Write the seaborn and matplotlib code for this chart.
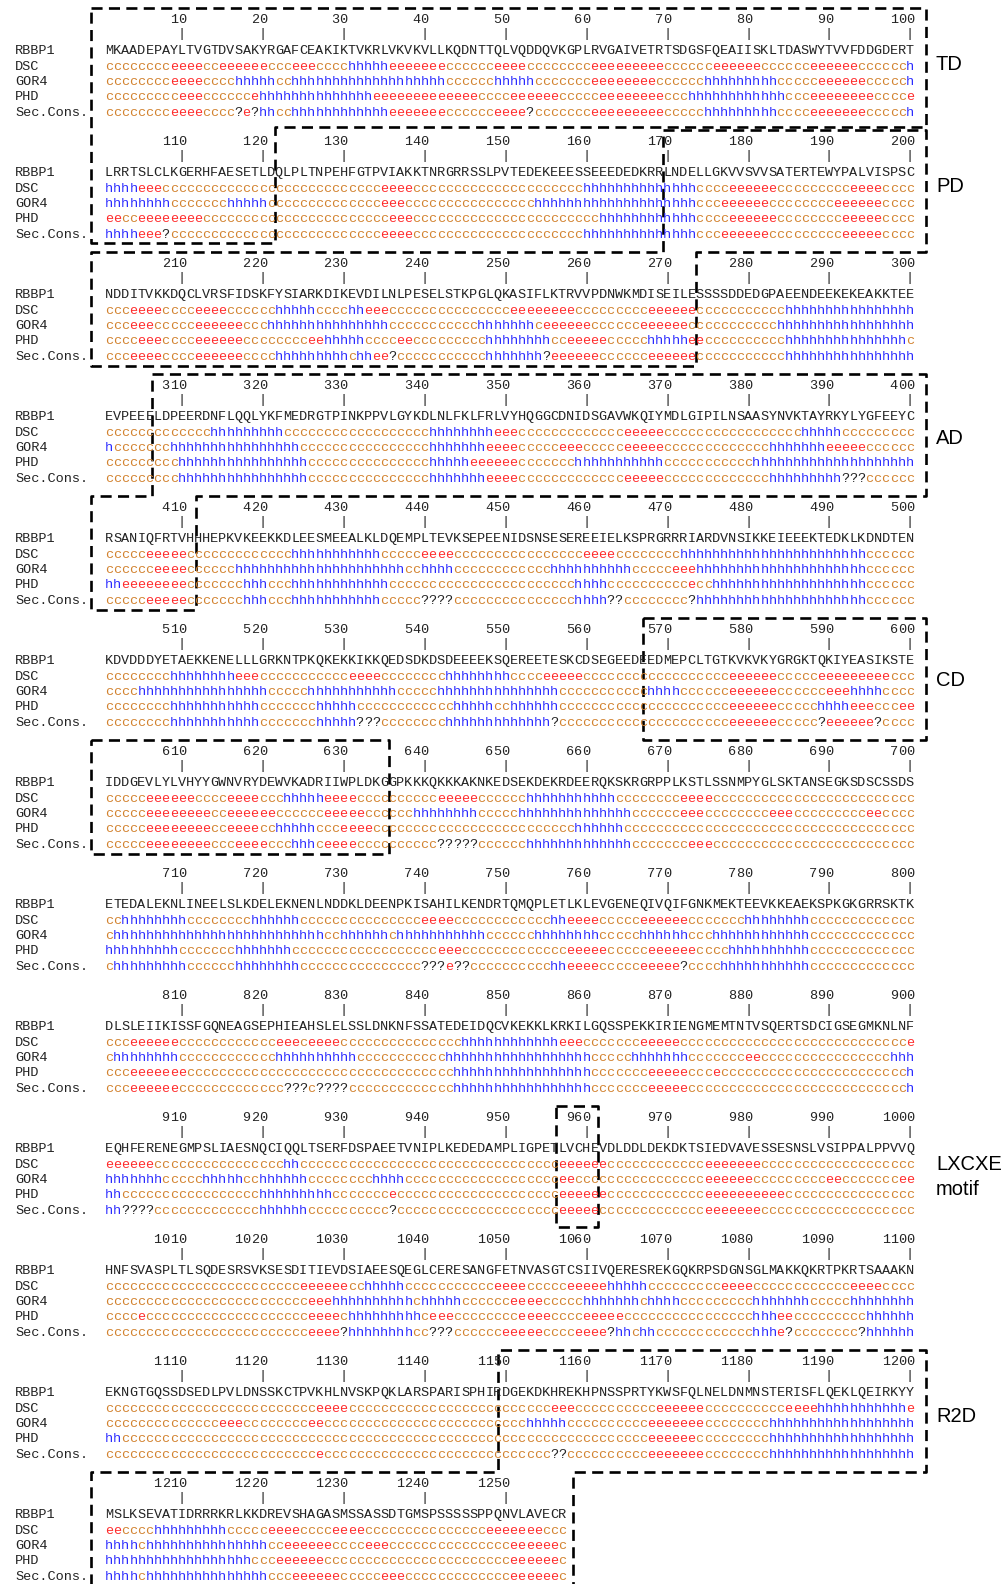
import re
import numpy as np
import pandas as pd
import matplotlib
matplotlib.use("Agg")
import matplotlib.pyplot as plt
import seaborn as sns

# ---------------- data ----------------
ROW_LABELS = ["RBBP1", "DSC", "GOR4", "PHD", "Sec.Cons."]

RBBP1 = [
    "MKAADEPAYLTVGTDVSAKYRGAFCEAKIKTVKRLVKVKVLLKQDNTTQLVQDDQVKGPLRVGAIVETRTSDGSFQEAIISKLTDASWYTVVFDDGDERT",
    "LRRTSLCLKGERHFAESETLDQLPLTNPEHFGTPVIAKKTNRGRRSSLPVTEDEKEEESSEEEDEDKRRLNDELLGKVVSVVSATERTEWYPALVISPSC",
    "NDDITVKKDQCLVRSFIDSKFYSIARKDIKEVDILNLPESELSTKPGLQKASIFLKTRVVPDNWKMDISEILESSSSDDEDGPAEENDEEKEKEAKKTEE",
    "EVPEEELDPEERDNFLQQLYKFMEDRGTPINKPPVLGYKDLNLFKLFRLVYHQGGCDNIDSGAVWKQIYMDLGIPILNSAASYNVKTAYRKYLYGFEEYC",
    "RSANIQFRTVHHHEPKVKEEKKDLEESMEEALKLDQEMPLTEVKSEPEENIDSNSESEREEIELKSPRGRRRIARDVNSIKKEIEEEKTEDKLKDNDTEN",
    "KDVDDDYETAEKKENELLLGRKNTPKQKEKKIKKQEDSDKDSDEEEEKSQEREETESKCDSEGEEDEEDMEPCLTGTKVKVKYGRGKTQKIYEASIKSTE",
    "IDDGEVLYLVHYYGWNVRYDEWVKADRIIWPLDKGGPKKKQKKKAKNKEDSEKDEKRDEERQKSKRGRPPLKSTLSSNMPYGLSKTANSEGKSDSCSSDS",
    "ETEDALEKNLINEELSLKDELEKNENLNDDKLDEENPKISAHILKENDRTQMQPLETLKLEVGENEQIVQIFGNKMEKTEEVKKEAEKSPKGKGRRSKTK",
    "DLSLEIIKISSFGQNEAGSEPHIEAHSLELSSLDNKNFSSATEDEIDQCVKEKKLKRKILGQSSPEKKIRIENGMEMTNTVSQERTSDCIGSEGMKNLNF",
    "EQHFERENEGMPSLIAESNQCIQQLTSERFDSPAEETVNIPLKEDEDAMPLIGPETLVCHEVDLDDLDEKDKTSIEDVAVESSESNSLVSIPPALPPVVQ",
    "HNFSVASPLTLSQDESRSVKSESDITIEVDSIAEESQEGLCERESANGFETNVASGTCSIIVQERESREKGQKRPSDGNSGLMAKKQKRTPKRTSAAAKN",
    "EKNGTGQSSDSEDLPVLDNSSKCTPVKHLNVSKPQKLARSPARISPHIRDGEKDKHREKHPNSSPRTYKWSFQLNELDNMNSTERISFLQEKLQEIRKYY",
    "MSLKSEVATIDRRRKRLKKDREVSHAGASMSSASSDTGMSPSSSSSPPQNVLAVECR",
]

# secondary-structure rows, written as runs: letter + run length
DSC = [
    "c8e4c2e6c3e3c4h5e7c6e4c8e9c6e6c6e6c6h1",
    "h4e3c27e4c21h14c4e6c9e4c4",
    "c3e4c4e4c6h5c4h2e3c15e8c9e6c11h16",
    "c13h9c18h8e3c13e5c17h5c9",
    "c5e5c1c12h11c5e4c16e4c8h23c6",
    "c8h8e3c11e4c8h8c4e5c8c10e6c5e9c3",
    "c5e6c4e4c3h5e4c4c6e5c6h11c8e4c25",
    "c2h8c8h6c15e4c12h2e4c5e6c7h8c13",
    "c3e6c12e3c1e4c15h12e3c7e5c28e1",
    "e6c16h2c32e6c12e7c19",
    "c24e6c2h5c11e4c5e5h5c9e4c12e4c4",
    "c26e4c19c6e3c10e6c10e4h11e1",
    "e2c4h9c5e4c4e4c15e7c3",
]
GOR4 = [
    "c8e4c4h5c2h19c6h5c7e8c6h9c5e6c5h1",
    "h8c7h5c14e3c16h20c3e6c8e6c4",
    "c3e3c5e6c3h15c11h7c1e6c6e6c1c10h17",
    "h1c7h16c16h7e4c5e3c5e5c13h7e5c6",
    "c6e4c1c5h21c2h4c12h10c5e3h21c6",
    "c4h16c5h11c5h15c11h4c6e6c6e3h4c4",
    "c5e8c2e6c6e5c3c3h8c5h14c6e3c8e3c9e2c4",
    "c1h26c2h6c1h11c6h8c5h6c3h12c13",
    "c1h8c12h10c11h18c5h7c7e2c16h3",
    "h7c5h5c2h6c8h4c19e2c3c13e6c9e2c7e2",
    "c25e3h10c1h5c6e4c5h7c1h4c9h7c5h8",
    "c14e3c8e2c22c3h5c10e7c8h18",
    "h4c1h15c2e6c4e3c15e6c1",
]
PHD = [
    "c9e3c6e1h14e13c4e6c5e8c3h12c3e8c4e1",
    "e2c2e8c23e3c23h12c4e6c8e5c4",
    "c4e3c4e6c8e2h5c4e2c9h8c2e5c5h5e2c10h15c1",
    "c9h16c15h5e6c7h11c11h20",
    "h2e8c1c6h3c3h12c23h4c10e1c2h19c6",
    "c8h11c7h5c12h5c2h6c11c10e6c5h4e3c3e2",
    "c5e8c2e4c2h5c3e4c2c23h6c36",
    "h9c7h7c18e3c13e5c5e6c4h10c13",
    "c3e7c33h17c7e5c3e1c23h1",
    "h2c17h9c7e1c20e6c12e10c16",
    "c4e1c20e4c1h9c1e3c8e4c4e5c16h3e2c9h6",
    "h2c47c18e6c9h18",
    "h18c3e6c23e6c1",
]
SEC_CONS = [
    "c8e4c4?1e1?1h2c2h12e7c6e4?1c7e9c5h9c4e7c5h1",
    "h4e3?1c26e4c21h14c3e6c9e5c4",
    "c3e4c4e6c4h9c1h2e2?1c11h7?1e6c6e6c11h16",
    "c9h16c15h7e4c13e5c13h9?3c6",
    "c5e5c1c6h3c3h11c5?4c15h4?2c8?1h21c6",
    "c8h11c7h5?3c8h13?1c11c10e6c5?1e6?1c4",
    "c5e8c3e4c3h3c1e4c4c6?5c6h13c7e3c25",
    "c1h9c6h8c15?3e1?2c10h2e4c5e5?1c4h11c13",
    "c3e6c13?3c1?4c13h17c7e5c27h1",
    "h2?4c13h6c10?1c20e5c13e7c19",
    "c25e4?1h8c2?3c6e5c4e4?1h2c1h2c12h3e1?1c8?1h6",
    "c26e1c22c6?2c10e7c8h18",
    "h4c1h15c3e6c5e3c13e6c1",
]

DOMAINS = ["TD", "PD", "AD", "CD", "LXCXE\nmotif", "R2D"]

# ---------------- style ----------------
COLORS = {"c": "#d2822f", "e": "#ff2a2a", "h": "#2b2bff", "?": "#222222"}
SEQ_COLOR = "#222222"
MONO = ["Liberation Mono", "DejaVu Sans Mono"]
FS = 9.7

X0, CW = 105.0, 8.09          # left edge of first residue cell, cell width
PITCH = 122.0                 # vertical distance between blocks
Y_NUM, Y_TICK = 20.4, 33.5
ROW_Y = [50.8, 66.6, 82.0, 97.4, 113.0]
XL, XR = 90.9, 926.3


def decode(rle, n):
    s = "".join(ch * int(k) for ch, k in re.findall(r"([ceh?])(\d+)", rle))
    if len(s) < n:
        s = s + s[-1] * (n - len(s))
    return s[:n]


def cx(i):          # centre of residue cell i (0-based)
    return X0 + (i + 0.5) * CW


def bx(b):          # x of cell boundary b
    return X0 + b * CW


def ytop(k):
    return 8.2 + PITCH * k


sns.set_theme(style="white")
plt.rcParams["font.family"] = MONO

fig = plt.figure(figsize=(10.08, 15.84), dpi=100)
ax = fig.add_axes([0, 0, 1, 1])
ax.set_xlim(0, 1008)
ax.set_ylim(1584, 0)
ax.axis("off")

for k, seq in enumerate(RBBP1):
    n = len(seq)
    yb = PITCH * k
    for j in range(10, n + 1, 10):
        num = str(100 * k + j)
        for d, ch in enumerate(num):
            ax.text(cx(j - len(num) + d), Y_NUM + yb, ch, ha="center", va="center",
                    family=MONO, fontsize=FS, color=SEQ_COLOR)
        ax.text(cx(j - 1), Y_TICK + yb, "|", ha="center", va="center",
                family=MONO, fontsize=FS, color=SEQ_COLOR)
    rows = [seq] + [decode(r[k], n) for r in (DSC, GOR4, PHD, SEC_CONS)]
    for r, (lab, row) in enumerate(zip(ROW_LABELS, rows)):
        y = ROW_Y[r] + yb
        ax.text(15.2, y, lab, ha="left", va="center", family=MONO,
                fontsize=FS, color=SEQ_COLOR)
        for i, ch in enumerate(row):
            col = SEQ_COLOR if r == 0 else COLORS[ch]
            ax.text(cx(i), y, ch, ha="center", va="center", family=MONO,
                    fontsize=FS, color=col)

# ---------------- dashed domain outlines ----------------
BOT = 113.5
paths = {
    "TD": [(XL, ytop(0)), (XR, ytop(0)), (XR, ytop(1) - 3.5), (bx(21), ytop(1) - 3.5),
           (bx(21), ytop(1) + BOT - 1), (XL, ytop(1) + BOT - 1), (XL, ytop(0))],
    "PD": [(bx(69), ytop(1) - 0.5), (XR, ytop(1) - 0.5), (XR, ytop(2)), (bx(73), ytop(2)),
           (bx(73), ytop(2) + BOT), (XL, ytop(2) + BOT), (XL, ytop(2)), (bx(69), ytop(2)),
           (bx(69), ytop(1) - 0.5)],
    "AD": [(bx(5.75), ytop(3)), (XR, ytop(3)), (XR, ytop(4)), (bx(11.3), ytop(4)),
           (bx(11.3), ytop(4) + BOT), (XL, ytop(4) + BOT), (XL, ytop(4)), (bx(5.75), ytop(4)),
           (bx(5.75), ytop(3))],
    "CD_a": [(bx(66.5), ytop(5)), (XR, ytop(5)), (XR, ytop(6)), (bx(66.5), ytop(6)),
             (bx(66.5), ytop(5))],
    "CD_b": [(XL, ytop(6)), (bx(35.1), ytop(6)), (bx(35.1), ytop(6) + BOT),
             (XL, ytop(6) + BOT), (XL, ytop(6))],
    "LX": [(bx(55.7), ytop(9)), (bx(61.0), ytop(9)), (bx(61.0), ytop(9) + 121),
           (bx(55.7), ytop(9) + 121), (bx(55.7), ytop(9))],
    "R2D": [(XL, 1600), (XL, ytop(12)), (bx(48.6), ytop(12)), (bx(48.6), ytop(11)),
            (XR, ytop(11)), (XR, ytop(12)), (bx(57.9), ytop(12)), (bx(57.9), 1600)],
}
recs = []
for name, pts in paths.items():
    for o, (x, y) in enumerate(pts):
        recs.append({"box": name, "order": o, "x": x, "y": y})
box_df = pd.DataFrame(recs)
sns.lineplot(data=box_df, x="x", y="y", units="box", estimator=None, sort=False,
             color="black", linewidth=1.9, linestyle=(0, (4.2, 2.4)), ax=ax, legend=False)
ax.set_xlim(0, 1008)
ax.set_ylim(1584, 0)
ax.axis("off")

# ---------------- domain labels ----------------
label_pos = {"TD": 64, "PD": 187, "AD": 439, "CD": 680, "LXCXE\nmotif": 1177, "R2D": 1416}
for lab in DOMAINS:
    ax.text(936, label_pos[lab], lab, ha="left", va="center", family=["Liberation Sans", "DejaVu Sans"],
            fontsize=14.5, color="black", linespacing=1.45)

fig.savefig("out.png", dpi=100)
